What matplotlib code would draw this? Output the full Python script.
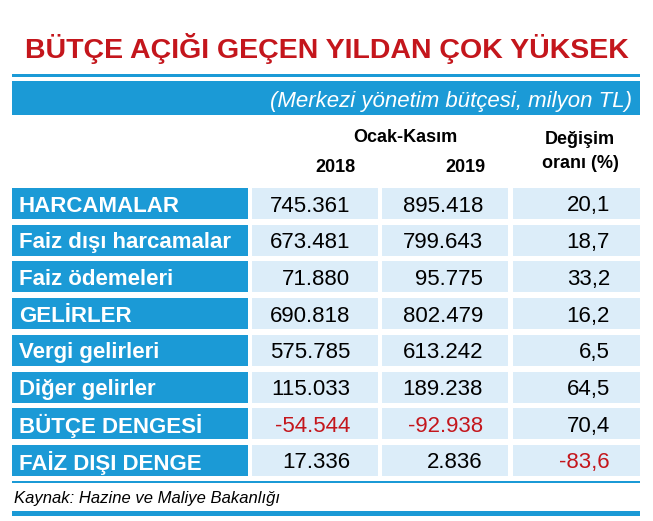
import matplotlib
matplotlib.use('Agg')
import matplotlib.pyplot as plt
from matplotlib.patches import Rectangle

plt.rcParams['font.family'] = ['Liberation Sans', 'DejaVu Sans']

W, H = 653, 521
BLUE = '#1b9ad6'
CELL = '#dcedf9'
RED = '#c4161c'

# ── veri ────────────────────────────────────────────────────────────────────
labels = ['HARCAMALAR', 'Faiz dışı harcamalar', 'Faiz ödemeleri', 'GELİRLER',
          'Vergi gelirleri', 'Diğer gelirler', 'BÜTÇE DENGESİ', 'FAİZ DIŞI DENGE']
v2018 = [745361, 673481, 71880, 690818, 575785, 115033, -54544, 17336]
v2019 = [895418, 799643, 95775, 802479, 613242, 189238, -92938, 2836]
change = [20.1, 18.7, 33.2, 16.2, 6.5, 64.5, 70.4, -83.6]

def fmt_int(v):
    return f'{v:,}'.replace(',', '.')

def fmt_pct(v):
    return f'{v:.1f}'.replace('.', ',')

fig = plt.figure(figsize=(W / 100, H / 100), dpi=100)
ax = fig.add_axes([0, 0, 1, 1])
ax.set_xlim(0, W); ax.set_ylim(H, 0); ax.axis('off')

ax.text(W / 2, 46, 'BÜTÇE AÇIĞI GEÇEN YILDAN ÇOK YÜKSEK', color=RED,
        fontsize=20.5, fontweight='bold', ha='center', va='center_baseline')
ax.add_patch(Rectangle((12, 74), 628, 3, color=BLUE, lw=0))
ax.add_patch(Rectangle((12, 81), 628, 34, color=BLUE, lw=0))
ax.text(632, 99, '(Merkezi yönetim bütçesi, milyon TL)', color='white',
        fontsize=16, style='italic', ha='right', va='center_baseline')

ax.text(405, 135, 'Ocak-Kasım', fontsize=13, fontweight='bold', ha='center', va='center_baseline')
ax.text(335, 166, '2018', fontsize=13, fontweight='bold', ha='center', va='center_baseline')
ax.text(465, 166, '2019', fontsize=13, fontweight='bold', ha='center', va='center_baseline')
ax.text(580, 138, 'Değişim', fontsize=13, fontweight='bold', ha='center', va='center_baseline')
ax.text(580, 162, 'oranı (%)', fontsize=13, fontweight='bold', ha='center', va='center_baseline')

y0, pitch, h = 188, 36.7, 31
for i, lab in enumerate(labels):
    y = y0 + i * pitch
    yc = y + h / 2
    ax.add_patch(Rectangle((12, y), 236, h, color=BLUE, lw=0))
    ax.text(19, yc, lab, color='white', fontsize=16, fontweight='bold',
            ha='left', va='center_baseline')
    for x0, x1 in [(252, 378), (382, 508), (513, 640)]:
        ax.add_patch(Rectangle((x0, y), x1 - x0, h, color=CELL, lw=0))
    ax.text(350, yc, fmt_int(v2018[i]), fontsize=16, ha='right', va='center_baseline',
            color=RED if v2018[i] < 0 else 'black')
    ax.text(483, yc, fmt_int(v2019[i]), fontsize=16, ha='right', va='center_baseline',
            color=RED if v2019[i] < 0 else 'black')
    ax.text(610, yc, fmt_pct(change[i]), fontsize=16, ha='right', va='center_baseline',
            color=RED if change[i] < 0 else 'black')

ax.add_patch(Rectangle((12, 481), 628, 2, color=BLUE, lw=0))
ax.text(14, 497, 'Kaynak: Hazine ve Maliye Bakanlığı', fontsize=12,
        style='italic', ha='left', va='center_baseline')
ax.add_patch(Rectangle((12, 511), 628, 5, color=BLUE, lw=0))

fig.savefig('out.png', dpi=100, facecolor='white')
